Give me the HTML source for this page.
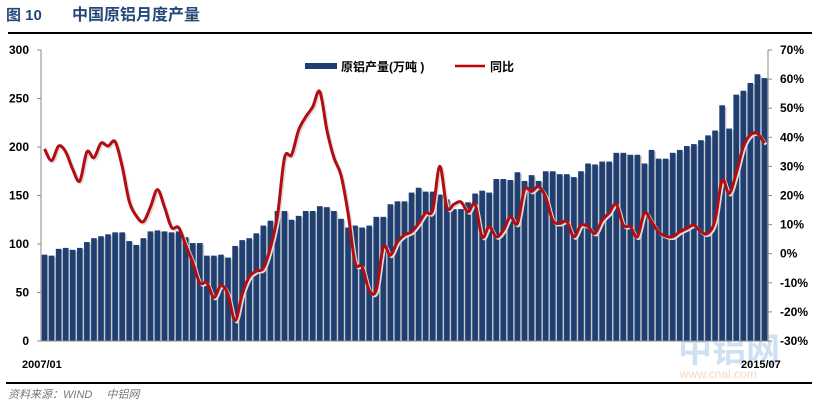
<!DOCTYPE html>
<html><head><meta charset="utf-8">
<style>
body{margin:0;background:#fff;width:814px;height:404px;overflow:hidden;font-family:"Liberation Sans","Noto Sans CJK SC",sans-serif}
svg{display:block}
</style></head>
<body>
<svg id="chart" width="814" height="404">
  <text x="6" y="20" font-size="15" font-weight="bold" fill="#24477a" font-family="Liberation Sans,Noto Sans CJK SC,sans-serif">图 10</text>
  <text x="72" y="20" font-size="16" font-weight="bold" fill="#24477a" font-family="Liberation Sans,Noto Sans CJK SC,sans-serif">中国原铝月度产量</text>
  <line x1="8" y1="33" x2="812" y2="33" stroke="#000" stroke-width="2"/>
  <line x1="6" y1="383" x2="812" y2="383" stroke="#000" stroke-width="2"/>
  <text x="8" y="398" font-size="11" font-style="italic" fill="#777" font-family="Liberation Sans,Noto Sans CJK SC,sans-serif">资料来源：WIND　 中铝网</text>
  <g id="watermark">
    <text x="678" y="362" font-size="34" font-weight="bold" fill="#cfe0f3" font-family="Noto Sans CJK SC,sans-serif">中铝网</text>
    <text x="680" y="378" font-size="12" fill="#f6d8c4" font-family="Liberation Sans,sans-serif">www.cnal.com</text>
  </g>
  <g id="bars"></g>
  <g id="axes"></g>
  <g id="line"></g>
  <g>
    <rect x="305" y="63" width="32" height="6" fill="#1f3f73"/>
    <text x="341" y="71" font-size="12" font-weight="bold" fill="#000" font-family="Liberation Sans,Noto Sans CJK SC,sans-serif">原铝产量(万吨 )</text>
    <line x1="455" y1="66" x2="485" y2="66" stroke="#c00000" stroke-width="2.5"/>
    <text x="490" y="71" font-size="12" font-weight="bold" fill="#000" font-family="Liberation Sans,Noto Sans CJK SC,sans-serif">同比</text>
  </g>
</svg>
<script>
const production = [89,88,95,96,94,96,102,106,108,110,112,112,
103,99,106,113,114,113,112,113,107,101,101,88,
88,89,86,98,104,106,111,119,124,134,134,125,
129,134,134,139,138,134,126,117,119,117,119,128,
128,141,144,144,153,158,154,154,151,146,136,136,143,152,155,153,167,167,166,174,165,171,165,175,175,172,172,169,175,183,182,185,185,194,194,192,192,183,197,188,188,194,197,201,203,207,212,217,243,219,254,258,266,275,271];
const yoy = [36,32,37,35,29,25,35,33,38,37,38.5,30,
18,13,11,16,22,16,9,9,3,-3,-10,-10,
-15,-11,-14,-23,-14,-8,-6,-5,2,13,33,34,
42.5,47,50.5,55.7,42.5,33,27,14,-3,-4.5,-12.5,-12.5,
2.3,-0.5,4,6.4,7.5,10.4,14,15,30,16,17,17.8,14.4,17,5.8,9.3,5.8,8,12.7,10.4,22,21.4,23,19.5,11.5,10.4,11,5.8,9.8,9.3,7,11.5,14,17,9.8,9.3,5.8,14,11,7.5,6,5.8,7.5,8.7,9.8,7.5,7,11.5,25.3,20.7,27.6,36.7,40.8,41.3,38];
const leftTicks = [0,50,100,150,200,250,300];
const rightTicks = [-30,-20,-10,0,10,20,30,40,50,60,70];
const xLabels = ["2007/01","2015/07"];

const NS="http://www.w3.org/2000/svg";
const X0=41,X1=768,YT=50,YB=341;
const n=production.length, step=(X1-X0)/n;
const yL=v=>YB-(v/300)*(YB-YT);
const yR=v=>YB-((v+30)/100)*(YB-YT);
const xC=i=>X0+step*(i+0.5);
function mk(tag,attrs,parent){const e=document.createElementNS(NS,tag);for(const k in attrs)e.setAttribute(k,attrs[k]);parent.appendChild(e);return e;}

const bars=document.getElementById('bars');
production.forEach((v,i)=>{
  const r=mk('rect',{x:xC(i)-step*0.4+1.5,y:yL(v)+1.5,width:step*0.8,height:YB-yL(v)-1.5,fill:'#c8c8c8'},bars);
  
  
  const b=mk('rect',{x:xC(i)-step*0.4,y:yL(v),width:step*0.8,height:YB-yL(v),fill:'#1f3f73'},bars);
  
  
});

const ax=document.getElementById('axes');
const la=mk('line',{x1:X0,y1:YT,x2:X0,y2:YB,stroke:'#888'},ax);


const ra=mk('line',{x1:X1,y1:YT,x2:X1,y2:YB,stroke:'#888'},ax);


const xa=mk('line',{x1:X0,y1:YB,x2:X1,y2:YB,stroke:'#888'},ax);


leftTicks.forEach(t=>{
  mk('line',{x1:X0-4,y1:yL(t),x2:X0,y2:yL(t),stroke:'#888'},ax);
  const tx=mk('text',{x:X0-12,y:yL(t)+4,'text-anchor':'end','font-size':12,'font-weight':'bold',fill:'#000'},ax);
  tx.textContent=t;
  
  
});
rightTicks.forEach(t=>{
  mk('line',{x1:X1,y1:yR(t),x2:X1+4,y2:yR(t),stroke:'#888'},ax);
  const tx=mk('text',{x:X1+12,y:yR(t)+4,'font-size':12,'font-weight':'bold',fill:'#000'},ax);
  tx.textContent=t+'%';
  
  
});
const l1=mk('text',{x:22,y:368,'font-size':11,'font-weight':'bold',fill:'#000'},ax);
l1.textContent=xLabels[0];


const l2=mk('text',{x:741,y:368,'font-size':11,'font-weight':'bold',fill:'#000'},ax);
l2.textContent=xLabels[1];



const lg=document.getElementById('line');
const pts=yoy.map((v,i)=>[xC(i),yR(v)]);
let d='M'+pts[0][0]+','+pts[0][1];
for(let i=1;i<pts.length;i++){
  const p0=pts[Math.max(0,i-2)],p1=pts[i-1],p2=pts[i],p3=pts[Math.min(pts.length-1,i+1)];
  const c1x=p1[0]+(p2[0]-p0[0])/6,c1y=p1[1]+(p2[1]-p0[1])/6;
  const c2x=p2[0]-(p3[0]-p1[0])/6,c2y=p2[1]-(p3[1]-p1[1])/6;
  d+=` C${c1x},${c1y} ${c2x},${c2y} ${p2[0]},${p2[1]}`;
}
const sh=mk('path',{d:d,fill:'none',stroke:'#dcdcdc','stroke-width':3,transform:'translate(1.5,1.5)'},lg);


const pl=mk('path',{d:d,fill:'none',stroke:'#b30d12','stroke-width':3,'stroke-linejoin':'round'},lg);


</script>
</body></html>
